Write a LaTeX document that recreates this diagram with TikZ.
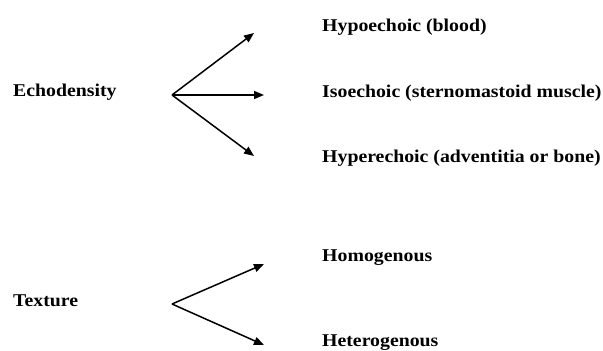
\documentclass[tikz,border=0pt]{standalone}
\usepackage{fontspec}
\setmainfont{Liberation Serif}[FakeStretch=1.1]
\usetikzlibrary{arrows.meta}
\begin{document}
\begin{tikzpicture}[x=1pt,y=-1pt,
  lbl/.style={anchor=base west,inner sep=0pt,font=\fontsize{18}{20}\selectfont\bfseries},
  arr/.style={line width=1.5pt,-{Triangle[length=10pt,width=8pt]}}]
\useasboundingbox (0,0) rectangle (603,351);
% left labels
\node[lbl] (echo) at (13,96) {Echodensity};
\node[lbl] (tex) at (13,306) {Texture};
% right labels
\node[lbl] (hypo) at (322,31) {Hypoechoic (blood)};
\node[lbl] (iso) at (322,97) {Isoechoic (sternomastoid muscle)};
\node[lbl] (hyper) at (322,162) {Hyperechoic (adventitia or bone)};
\node[lbl] (homo) at (322,261) {Homogenous};
\node[lbl] (hetero) at (322,346) {Heterogenous};
% branch points and tips
\coordinate (e0) at (172,95);
\coordinate (e1) at (254,33);
\coordinate (e2) at (264,95);
\coordinate (e3) at (254,156);
\coordinate (t0) at (172,304);
\coordinate (t1) at (264,264);
\coordinate (t2) at (264,345);
\draw[arr] (e0) -- (e1);
\draw[arr] (e0) -- (e2);
\draw[arr] (e0) -- (e3);
\draw[arr] (t0) -- (t1);
\draw[arr] (t0) -- (t2);
\end{tikzpicture}
\end{document}
